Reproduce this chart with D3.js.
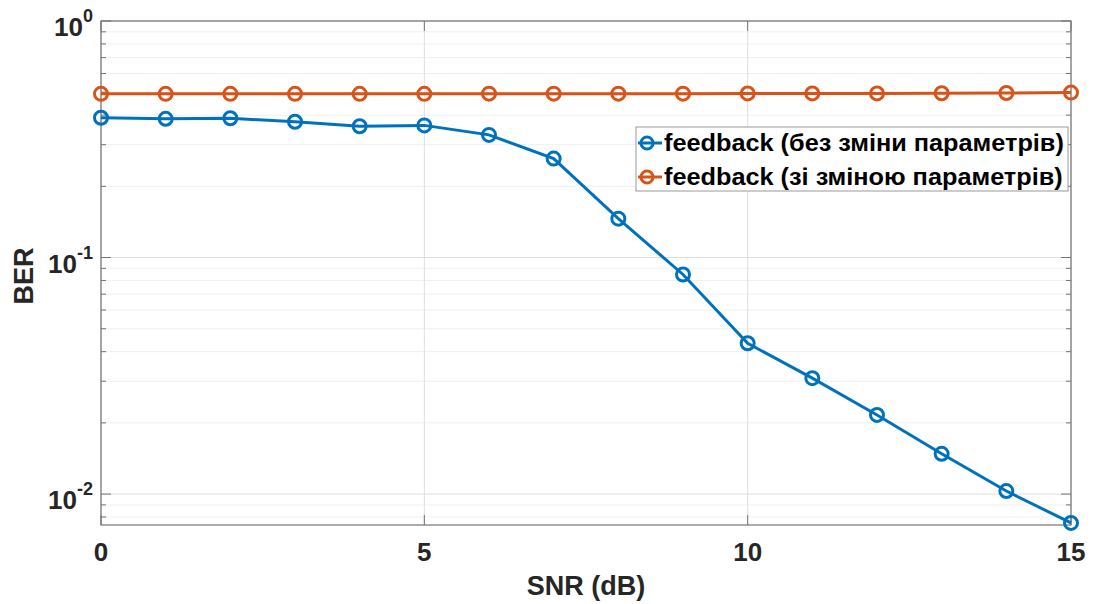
<!DOCTYPE html>
<html>
<head>
<meta charset="utf-8">
<script src="https://cdn.jsdelivr.net/npm/d3@7"></script>
<style>
  body { margin: 0; background: #fff; }
  text { font-family: "Liberation Sans", Arial, sans-serif; font-weight: bold; }
</style>
</head>
<body>
<div class="chart"></div>
<script>
const snr = [0, 1, 2, 3, 4, 5, 6, 7, 8, 9, 10, 11, 12, 13, 14, 15]
const berNoChange = [0.390, 0.386, 0.388, 0.375, 0.359, 0.362, 0.330, 0.262, 0.146, 0.0848, 0.0434, 0.0309, 0.0216, 0.0148, 0.0103, 0.00755]
const berChange = [0.492, 0.492, 0.492, 0.492, 0.492, 0.492, 0.493, 0.493, 0.493, 0.493, 0.494, 0.494, 0.494, 0.495, 0.496, 0.498]
const seriesNames = ['feedback (без зміни параметрів)', 'feedback (зі зміною параметрів)']
const xTicks = [0, 5, 10, 15]
const yTicks = [1, 0.1, 0.01]

const width = 1094
const height = 604
const margin = { top: 21, right: 23, bottom: 79, left: 101 }
const w = width - margin.left - margin.right
const h = height - margin.top - margin.bottom
const colors = ['#0072BD', '#D95319']

const svg = d3.select('.chart')
  .append('svg')
  .attr('width', width)
  .attr('height', height)

const g = svg.append('g')
  .attr('transform', `translate(${margin.left}, ${margin.top})`)

const xScale = d3.scaleLinear().domain([0, 15]).range([0, w])
const yScale = d3.scaleLog().domain([0.0074, 1]).range([h, 0])

// minor values for the log grid
const minor = []
for (const dec of [0.001, 0.01, 0.1]) {
  for (let k = 2; k <= 9; k++) {
    const v = dec * k
    if (v >= 0.0074 && v <= 1) minor.push(v)
  }
}

// grid
g.selectAll('.minorGrid').data(minor).enter().append('line')
  .attr('x1', 0).attr('x2', w)
  .attr('y1', d => yScale(d)).attr('y2', d => yScale(d))
  .attr('stroke', '#f0f0f0').attr('stroke-width', 1)
g.selectAll('.majorGridY').data(yTicks).enter().append('line')
  .attr('x1', 0).attr('x2', w)
  .attr('y1', d => yScale(d)).attr('y2', d => yScale(d))
  .attr('stroke', '#dedede').attr('stroke-width', 1)
g.selectAll('.majorGridX').data(xTicks).enter().append('line')
  .attr('x1', d => xScale(d)).attr('x2', d => xScale(d))
  .attr('y1', 0).attr('y2', h)
  .attr('stroke', '#dedede').attr('stroke-width', 1)

// ticks, inward on all sides
const axisColor = '#737373'
const tickG = g.append('g').attr('stroke', axisColor).attr('stroke-width', 1)
yTicks.forEach(d => {
  tickG.append('line').attr('x1', 0).attr('x2', 10).attr('y1', yScale(d)).attr('y2', yScale(d))
  tickG.append('line').attr('x1', w).attr('x2', w - 10).attr('y1', yScale(d)).attr('y2', yScale(d))
})
minor.forEach(d => {
  tickG.append('line').attr('x1', 0).attr('x2', 5).attr('y1', yScale(d)).attr('y2', yScale(d))
  tickG.append('line').attr('x1', w).attr('x2', w - 5).attr('y1', yScale(d)).attr('y2', yScale(d))
})
xTicks.forEach(d => {
  tickG.append('line').attr('x1', xScale(d)).attr('x2', xScale(d)).attr('y1', h).attr('y2', h - 10)
  tickG.append('line').attr('x1', xScale(d)).attr('x2', xScale(d)).attr('y1', 0).attr('y2', 10)
})

// box
g.append('rect')
  .attr('width', w).attr('height', h)
  .attr('fill', 'none').attr('stroke', axisColor).attr('stroke-width', 1.2)

// tick labels
g.selectAll('.xLabel').data(xTicks).enter().append('text')
  .attr('x', d => xScale(d)).attr('y', h + 36)
  .attr('text-anchor', 'middle')
  .attr('font-size', 26).attr('fill', '#262626')
  .text(d => d)

const yExp = d => Math.round(Math.log10(d))
yTicks.forEach(d => {
  const t = g.append('text')
    .attr('x', -8).attr('y', yScale(d) + 15)
    .attr('text-anchor', 'end')
    .attr('font-size', 26).attr('fill', '#262626')
  t.append('tspan').text('10')
  t.append('tspan').attr('dy', -14).attr('font-size', 18).text(yExp(d))
})

// axis titles
svg.append('text')
  .attr('x', margin.left + w / 2).attr('y', 595)
  .attr('text-anchor', 'middle')
  .attr('font-size', 27).attr('fill', '#262626')
  .text('SNR (dB)')
svg.append('text')
  .attr('transform', `translate(33, 276) rotate(-90)`)
  .attr('text-anchor', 'middle')
  .attr('font-size', 27).attr('fill', '#262626')
  .text('BER')

// series
const series = [berNoChange, berChange]
const line = d3.line()
  .x((d, i) => xScale(snr[i]))
  .y(d => yScale(d))

series.forEach((vals, s) => {
  g.append('path')
    .datum(vals)
    .attr('fill', 'none')
    .attr('stroke', colors[s])
    .attr('stroke-width', 3)
    .attr('d', line)
  g.selectAll(`.marker${s}`).data(vals).enter().append('circle')
    .attr('cx', (d, i) => xScale(snr[i]))
    .attr('cy', d => yScale(d))
    .attr('r', 6.5)
    .attr('fill', 'none')
    .attr('stroke', colors[s])
    .attr('stroke-width', 3)
})

/* Legend */
const legend = svg.append('g').attr('transform', 'translate(636, 127)')
legend.append('rect')
  .attr('width', 432).attr('height', 64)
  .attr('fill', '#fff').attr('stroke', '#999').attr('stroke-width', 1)
seriesNames.forEach((name, i) => {
  const y = 16 + i * 34
  legend.append('line')
    .attr('x1', 2).attr('x2', 26).attr('y1', y).attr('y2', y)
    .attr('stroke', colors[i]).attr('stroke-width', 3)
  legend.append('circle')
    .attr('cx', 11).attr('cy', y).attr('r', 6)
    .attr('fill', 'none').attr('stroke', colors[i]).attr('stroke-width', 3)
  legend.append('text')
    .attr('transform', `translate(28, ${y + 8}) scale(1.1, 1)`)
    .attr('font-size', 23).attr('fill', '#000')
    .text(name)
})
</script>
</body>
</html>
